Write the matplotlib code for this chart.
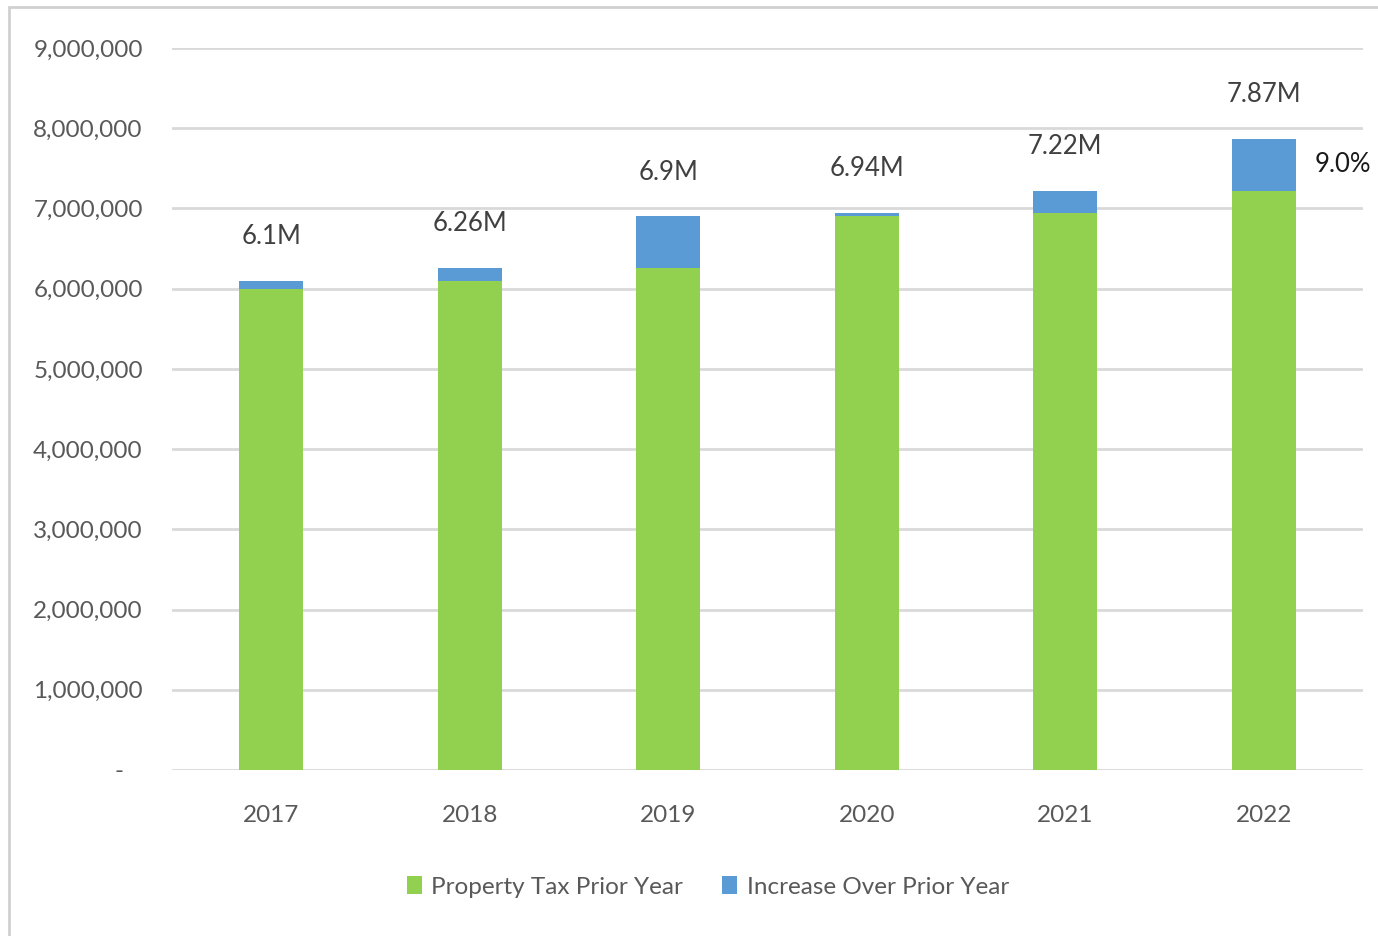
import matplotlib.pyplot as plt
from matplotlib.ticker import FuncFormatter
from matplotlib.patches import Rectangle

# Property tax, millions of dollars
years = ["2017", "2018", "2019", "2020", "2021", "2022"]
prior_year = [6.00, 6.10, 6.26, 6.90, 6.94, 7.22]
increase = [0.10, 0.16, 0.64, 0.04, 0.28, 0.65]
total_labels = ["6.1M", "6.26M", "6.9M", "6.94M", "7.22M", "7.87M"]
last_pct_label = "9.0%"

plt.rcParams["font.family"] = ["Lato", "DejaVu Sans"]

green = "#92D050"
blue = "#5B9BD5"
grid_col = "#D9D9D9"
tick_col = "#595959"

fig = plt.figure(figsize=(13.78, 9.36), dpi=100)
ax = fig.add_axes([172 / 1378, 1 - 770 / 936, 1191 / 1378, 722 / 936])

# outer chart frame
fig.patches.append(Rectangle((9 / 1378, -0.1), 1.2, 1 - 7 / 936 + 0.1,
                             transform=fig.transFigure, fill=False,
                             edgecolor="#D0D0D0", linewidth=2))

x = list(range(len(years)))
prior_m = [v * 1e6 for v in prior_year]
inc_m = [v * 1e6 for v in increase]
ax.bar(x, prior_m, width=0.32, color=green, label="Property Tax Prior Year", zorder=3)
ax.bar(x, inc_m, width=0.32, bottom=prior_m, color=blue,
       label="Increase Over Prior Year", zorder=3)

for i in x:
    top = prior_m[i] + inc_m[i]
    ax.annotate(total_labels[i], (i, top), xytext=(0, 32), textcoords="offset points",
                ha="center", va="center", fontsize=18.5, color="#404040")

last = len(years) - 1
ax.annotate(last_pct_label, (last + 0.16, prior_m[last] + inc_m[last] / 2),
            xytext=(14, 0), textcoords="offset points", ha="left", va="center",
            fontsize=18.5, color="#1a1a1a")

ax.set_xlim(-0.5, 5.5)
ax.set_ylim(0, 9e6)
ax.set_yticks([i * 1e6 for i in range(10)])
# accounting style: zero shown as a dash
ax.yaxis.set_major_formatter(FuncFormatter(lambda v, p: "-   " if v == 0 else f"{v:,.0f}"))
ax.set_xticks(x)
ax.set_xticklabels(years)
ax.tick_params(axis="both", length=0, labelsize=17.5, colors=tick_col)
ax.tick_params(axis="y", pad=21)
ax.tick_params(axis="x", pad=25)
ax.grid(axis="y", color=grid_col, linewidth=2, zorder=0)
for s in ax.spines.values():
    s.set_visible(False)

ax.legend(loc="center", bbox_to_anchor=(708 / 1378, 1 - 887 / 936),
          bbox_transform=fig.transFigure, ncol=2, frameon=False, fontsize=17.5,
          labelcolor=tick_col, handlelength=0.6, handleheight=0.75,
          handletextpad=0.4, columnspacing=1.6)

fig.savefig("out.png", dpi=100)
